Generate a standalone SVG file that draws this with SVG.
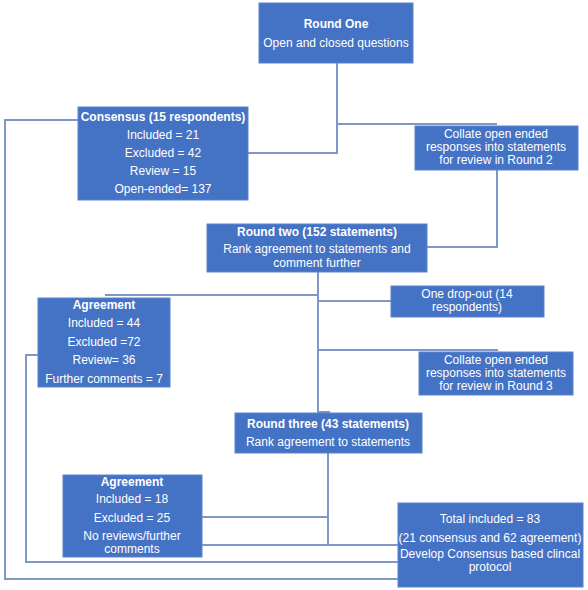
<svg xmlns="http://www.w3.org/2000/svg" width="588" height="590" viewBox="0 0 588 590">
<style>
.box{fill:#4472C4;stroke:#5b83cc;stroke-width:1}
.t{font-family:"Liberation Sans","Open Sans",Arial,sans-serif;font-size:12px;fill:#fff;text-anchor:middle}
.b{font-weight:bold}
.c{fill:none;stroke:#7d97c6;stroke-width:2}
</style>
<rect width="588" height="590" fill="#fff"/>
<g id="connectors">
<polyline class="c" points="337,63 337,153 248,153"/>
<polyline class="c" points="337,124 497,124"/>
<polyline class="c" points="497,170 497,247 427,247"/>
<polyline class="c" points="78,120 5,120 5,579 398,579"/>
<polyline class="c" points="318,272 318,412 330,412"/>
<polyline class="c" points="105,295 318,295"/>
<polyline class="c" points="318,301 391,301"/>
<polyline class="c" points="318,350 498,350"/>
<polyline class="c" points="38,355 26,355 26,562 398,562"/>
<polyline class="c" points="328,453 328,545"/>
<polyline class="c" points="202,517 328,517"/>
<polyline class="c" points="202,545 398,545"/>
</g>
<g id="round-one">
<rect class="box" x="259" y="3" width="154" height="60"/>
<text class="t b" x="336" y="28">Round One</text>
<text class="t" x="336" y="47">Open and closed questions</text>
</g>
<g id="consensus">
<rect class="box" x="78" y="107" width="170" height="93"/>
<text class="t b" x="163" y="121">Consensus (15 respondents)</text>
<text class="t" x="163" y="139">Included = 21</text>
<text class="t" x="163" y="157">Excluded = 42</text>
<text class="t" x="163" y="175">Review = 15</text>
<text class="t" x="163" y="193">Open-ended= 137</text>
</g>
<g id="collate-1">
<rect class="box" x="415" y="126" width="163" height="44"/>
<text class="t" x="496" y="138">Collate open ended</text>
<text class="t" x="496" y="151">responses into statements</text>
<text class="t" x="496" y="164">for review in Round 2</text>
</g>
<g id="round-two">
<rect class="box" x="207" y="224" width="220" height="48"/>
<text class="t b" x="317" y="236">Round two (152 statements)</text>
<text class="t" x="317" y="253">Rank agreement to statements and</text>
<text class="t" x="317" y="267">comment further</text>
</g>
<g id="drop-out">
<rect class="box" x="391" y="286" width="153" height="31"/>
<text class="t" x="467" y="298">One drop-out (14</text>
<text class="t" x="467" y="311">respondents)</text>
</g>
<g id="agreement-1">
<rect class="box" x="38" y="298" width="132" height="89"/>
<text class="t b" x="104" y="309">Agreement</text>
<text class="t" x="104" y="327">Included = 44</text>
<text class="t" x="104" y="346">Excluded =72</text>
<text class="t" x="104" y="364">Review= 36</text>
<text class="t" x="104" y="383">Further comments = 7</text>
</g>
<g id="collate-2">
<rect class="box" x="419" y="352" width="154" height="43"/>
<text class="t" x="496" y="364">Collate open ended</text>
<text class="t" x="496" y="377">responses into statements</text>
<text class="t" x="496" y="390">for review in Round 3</text>
</g>
<g id="round-three">
<rect class="box" x="235" y="413" width="187" height="40"/>
<text class="t b" x="328" y="428">Round three (43 statements)</text>
<text class="t" x="328" y="446">Rank agreement to statements</text>
</g>
<g id="agreement-2">
<rect class="box" x="63" y="475" width="139" height="82"/>
<text class="t b" x="132" y="486">Agreement</text>
<text class="t" x="132" y="503">Included = 18</text>
<text class="t" x="132" y="522">Excluded = 25</text>
<text class="t" x="132" y="540">No reviews/further</text>
<text class="t" x="132" y="553">comments</text>
</g>
<g id="total">
<rect class="box" x="398" y="503" width="185" height="84"/>
<text class="t" x="490" y="523">Total included = 83</text>
<text class="t" x="490" y="542">(21 consensus and 62 agreement)</text>
<text class="t" x="490" y="558">Develop Consensus based clincal</text>
<text class="t" x="490" y="571">protocol</text>
</g>
</svg>
